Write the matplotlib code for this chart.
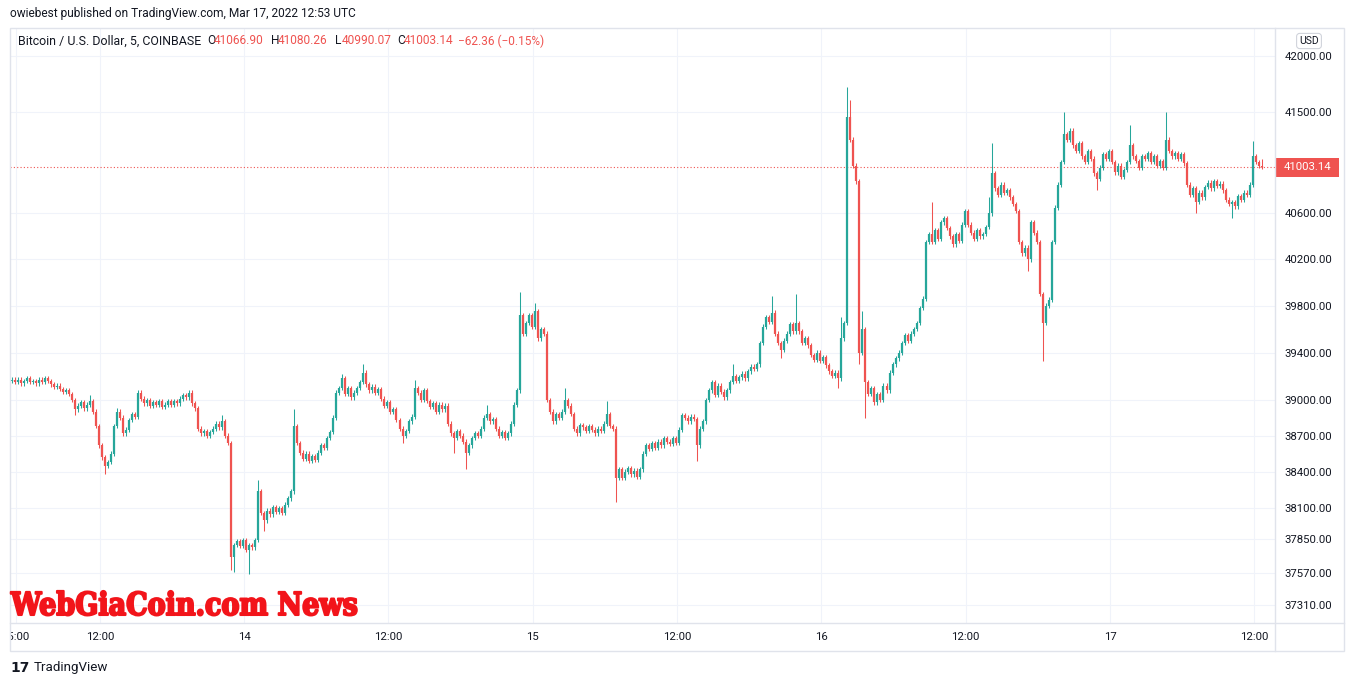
import matplotlib
matplotlib.use("Agg")
import matplotlib.pyplot as plt
import matplotlib.dates as mdates
from matplotlib.patches import Rectangle
from matplotlib.lines import Line2D
from matplotlib.ticker import NullLocator
from matplotlib.patheffects import AbstractPathEffect
from matplotlib.transforms import Affine2D
import numpy as np
import pandas as pd

# ---------------- data (15-minute candles) ----------------
first_open = 39160
close = [
    39170, 39150, 39170, 39140, 39160, 39180, 39150, 39160, 39140, 39170,
    39150, 39180, 39160, 39130, 39110, 39120, 39090, 39070, 39080, 39050,
    39000, 38920, 38950, 38980, 38930, 38960, 38990, 38900, 38780, 38620,
    38520, 38450, 38480, 38550, 38780, 38900, 38850, 38720, 38750, 38830,
    38880, 38860, 39060, 39010, 38970, 39000, 38950, 38980, 38960, 38990,
    38940, 38960, 38990, 38960, 38990, 38970, 39010, 39040, 39020, 39060,
    38970, 38930, 38760, 38720, 38740, 38700, 38730, 38760, 38800, 38770,
    38820, 38700, 38640, 37700, 37800, 37830, 37790, 37840, 37760, 37800,
    37780, 37840, 38240, 38060, 38000, 38080, 38050, 38110, 38070, 38100,
    38060, 38130, 38180, 38240, 38780, 38640, 38560, 38510, 38550, 38490,
    38530, 38500, 38560, 38620, 38600, 38680, 38730, 38850, 39060, 39100,
    39180, 39050, 39100, 39020, 39060, 39100, 39150, 39230, 39130, 39080,
    39110, 39060, 39090, 39010, 38950, 38980, 38900, 38920, 38830, 38760,
    38700, 38740, 38820, 38860, 39100, 39060, 39000, 39080, 38990, 38940,
    38970, 38900, 38960, 38920, 38950, 38800, 38720, 38680, 38740, 38700,
    38650, 38560, 38620, 38680, 38720, 38700, 38760, 38850, 38880, 38820,
    38840, 38760, 38700, 38730, 38680, 38720, 38800, 38960, 39080, 39720,
    39560, 39650, 39720, 39620, 39750, 39520, 39600, 39560, 39000, 38900,
    38820, 38880, 38850, 38900, 39000, 38950, 38880, 38760, 38720, 38790,
    38770, 38740, 38780, 38750, 38720, 38760, 38740, 38800, 38880, 38780,
    38760, 38350, 38420, 38350, 38400, 38430, 38380, 38410, 38360, 38420,
    38550, 38620, 38590, 38640, 38600, 38650, 38620, 38680, 38650, 38630,
    38680, 38640, 38750, 38870, 38850, 38820, 38860, 38840, 38620, 38760,
    38820, 39000, 39080, 39150, 39040, 39120, 39070, 39020, 39080, 39150,
    39200, 39160, 39190, 39220, 39180, 39240, 39280, 39260, 39300, 39480,
    39620, 39700, 39660, 39740, 39560, 39480, 39420, 39500, 39560, 39640,
    39580, 39650, 39580, 39480, 39520, 39460, 39380, 39340, 39400, 39330,
    39360, 39290, 39240, 39200, 39230, 39180, 39520, 39650, 41450, 41250,
    41020, 40880, 39400, 39600, 39150, 39050, 39100, 38980, 39050, 39000,
    39120, 39080, 39230, 39300, 39350, 39400, 39480, 39550, 39500, 39560,
    39600, 39650, 39780, 39860, 40350, 40420, 40350, 40450, 40380, 40520,
    40560, 40470, 40400, 40330, 40420, 40360, 40500, 40620, 40500, 40430,
    40380, 40450, 40400, 40420, 40480, 40600, 40950, 40820, 40760, 40850,
    40780, 40800, 40740, 40680, 40620, 40350, 40250, 40300, 40200, 40520,
    40430, 40350, 39900, 39650, 39800, 39850, 40350, 40650, 40850, 41050,
    41300, 41250, 41330, 41200, 41150, 41220, 41100, 41050, 41150, 41080,
    40950, 40900, 41000, 41120, 41080, 41150, 41050, 40960, 41020, 40920,
    40980, 41050, 41200, 41100, 41060, 41000, 41100, 41080, 41130, 41050,
    41100, 41020, 41060, 41000, 41250, 41150, 41100, 41130, 41080, 41120,
    41040, 40850, 40760, 40820, 40700, 40780, 40740, 40830, 40870, 40820,
    40880, 40840, 40860, 40800, 40720, 40680, 40700, 40660, 40750, 40720,
    40780, 40760, 40850, 41100, 41050, 41020, 41003.14,
]
# notable wicks (candle index -> price)
high_idx = [26, 35, 59, 70, 82, 94, 110, 117, 134, 158, 169, 174, 184, 198, 240,
            253, 261, 276, 278, 279, 283, 306, 325, 326, 350, 372, 384, 413, 416]
high_val = [39040, 38930, 39080, 38870, 38330, 38920, 39220, 39300, 39170, 38960,
            39920, 39820, 39100, 38990, 39300, 39880, 39900, 39700, 41720, 41600,
            39750, 40700, 40740, 41220, 41500, 41380, 41500, 41240, 41080.26]
low_idx = [21, 31, 73, 74, 79, 84, 130, 147, 151, 201, 228, 256, 275, 282, 284,
           338, 343, 361, 394, 406, 416]
low_val = [38870, 38380, 37600, 37580, 37560, 37910, 38640, 38560, 38420, 38150,
           38490, 39350, 39100, 39300, 38850, 40100, 39330, 40800, 40600, 40560,
           40990.07]

y_ticks = [42000, 41500, 40600, 40200, 39800, 39400, 39000, 38700, 38400,
           38100, 37850, 37570, 37310]
x_tick_times = ["2022-03-13 05:00", "2022-03-13 12:00", "2022-03-14 00:00",
                "2022-03-14 12:00", "2022-03-15 00:00", "2022-03-15 12:00",
                "2022-03-16 00:00", "2022-03-16 12:00", "2022-03-17 00:00",
                "2022-03-17 12:00"]
x_tick_labels = ["05:00", "12:00", "14", "12:00", "15", "12:00", "16", "12:00",
                 "17", "12:00"]
last_price = 41003.14
legend_ohlc = [("O", "41066.90"), ("H", "41080.26"), ("L", "40990.07"), ("C", "41003.14")]
legend_change = "\u221262.36 (\u22120.15%)"

# ---------------- style ----------------
W, H = 1354, 686
UP, DOWN = "#26a69a", "#ef5350"
GRID = "#f0f3fa"
BORDER = "#e0e3eb"
TXT = "#131722"
WM_RED = "#f2141a"
FONT = ["Roboto", "DejaVu Sans"]
WICK_FRAC = 0.0005

plt.rcParams["font.family"] = FONT
fig = plt.figure(figsize=(W / 100, H / 100), dpi=100, facecolor="white")


def fx(x):
    return x / W


def fy(y):
    return 1 - y / H


class HScaleBold(AbstractPathEffect):
    """Squeeze glyph outlines horizontally around a display x and embolden them."""

    def __init__(self, sx, x0, stroke, color):
        super().__init__()
        self.sx = sx
        self.x0 = x0
        self.stroke = stroke
        self.color = color

    def draw_path(self, renderer, gc, tpath, affine, rgbFace=None):
        aff = affine + Affine2D().translate(-self.x0, 0).scale(self.sx, 1).translate(self.x0, 0)
        gc0 = renderer.new_gc()
        gc0.copy_properties(gc)
        gc0.set_linewidth(self.stroke)
        gc0.set_foreground(self.color)
        gc0.set_joinstyle("round")
        renderer.draw_path(gc0, tpath, aff, rgbFace)
        gc0.restore()


# plot area in pixels
L, R, T, B = 9.5, 1274.5, 28, 622.5
ax = fig.add_axes([fx(L), fy(B), fx(R) - fx(L), fy(T) - fy(B)])
ax.set_facecolor("white")

times = pd.date_range("2022-03-13 04:40", periods=len(close), freq="15min")
xs = mdates.date2num(times.to_pydatetime())
c = np.array(close, dtype=float)
o = np.array([first_open] + close[:-1], dtype=float)
top = np.maximum(o, c)
bot = np.minimum(o, c)
hi = top * (1 + WICK_FRAC)
lo = bot * (1 - WICK_FRAC)
for i, v in zip(high_idx, high_val):
    hi[i] = max(v, top[i])
for i, v in zip(low_idx, low_val):
    lo[i] = min(v, bot[i])
up = c >= o
cols = np.where(up, UP, DOWN)
body_top = np.where(top - bot < 6, bot + 6, top)

ax.vlines(xs, lo, hi, colors=cols, lw=0.75, zorder=3)
ax.vlines(xs, bot, body_top, colors=cols, lw=1.6, zorder=3)

ax.set_yscale("log")
ax.set_ylim(37173, 42254)
x0 = mdates.date2num(pd.Timestamp("2022-03-13 04:29").to_pydatetime())
x1 = mdates.date2num(pd.Timestamp("2022-03-17 13:41").to_pydatetime())
ax.set_xlim(x0, x1)

ax.yaxis.set_minor_locator(NullLocator())
ax.xaxis.set_minor_locator(NullLocator())
ax.yaxis.tick_right()
ax.set_yticks(y_ticks)
ax.set_yticklabels([f"{v:.2f}" for v in y_ticks])
ax.set_xticks(mdates.date2num(pd.to_datetime(x_tick_times).to_pydatetime()))
ax.set_xticklabels(x_tick_labels)
ax.tick_params(axis="y", length=0, pad=7.5, labelsize=8.2, colors=TXT)
ax.tick_params(axis="x", length=0, pad=6.5, labelsize=8.2, colors=TXT)
ax.grid(True, color=GRID, lw=0.8)
ax.set_axisbelow(True)
for s in ax.spines.values():
    s.set_visible(False)

ax.axhline(last_price, color=DOWN, lw=0.8, ls=(0, (1, 2)), zorder=2)

# ---------------- overlay in pixel coordinates ----------------
ov = fig.add_axes([0, 0, 1, 1], zorder=5)
ov.set_xlim(0, W)
ov.set_ylim(H, 0)
ov.axis("off")
ov.patch.set_alpha(0)

ov.add_patch(Rectangle((0, 622), L, 30, facecolor="white", edgecolor="none"))
ov.add_patch(Rectangle((L, T), 1343.5 - L, 650.5 - T, facecolor="none",
                       edgecolor=BORDER, lw=1.0))
ov.add_line(Line2D([R, R], [T, 650.5], color=BORDER, lw=1.0))
ov.add_line(Line2D([L, 1343.5], [B, B], color=BORDER, lw=1.0))

# last price label
ov.add_patch(Rectangle((R, 158), 64, 18.5, facecolor=DOWN, edgecolor="none"))
ov.text(R + 33, 167.5, f"{last_price:.2f}", color="white", fontsize=8.2,
        ha="center", va="center")

# USD tag
ov.text(1309, 41, "USD", fontsize=7.5, color=TXT, ha="center", va="center",
        bbox=dict(boxstyle="round,pad=0.25,rounding_size=0.3", fc="white",
                  ec="#d1d4dc", lw=0.8))

# header
ov.text(10.5, 14, "owiebest published on TradingView.com, Mar 17, 2022 12:53 UTC",
        fontsize=8.6, color=TXT, ha="left", va="center")
ov.text(18, 41, "Bitcoin / U.S. Dollar, 5, COINBASE", fontsize=8.9, color=TXT,
        ha="left", va="center")
lx = [207, 271, 335, 397]
for (k, v), xk in zip(legend_ohlc, lx):
    ov.text(xk, 41, k, fontsize=8.6, color=TXT, ha="left", va="center")
    ov.text(xk + 7, 41, v, fontsize=8.6, color=DOWN, ha="left", va="center")
ov.text(458, 41, legend_change, fontsize=8.6, color=DOWN, ha="left", va="center")

# watermark: heavy slab-serif, squeezed horizontally to the reference width
wm = ov.text(11, 615.0, "WebGiaCoin.com News", fontsize=22.8, color=WM_RED,
             family=["DejaVu Serif"], fontweight="bold",
             ha="left", va="baseline")
renderer = fig.canvas.get_renderer()
bb = wm.get_window_extent(renderer)
sx = (357 - 11) / bb.width
wm.set_path_effects([HScaleBold(sx, bb.x0, 1.5, WM_RED)])

# TradingView logo
ov.text(10, 668, "17", fontsize=10, fontweight="heavy", color=TXT,
        family=["DejaVu Sans"], ha="left", va="center")
ov.text(34, 668, "TradingView", fontsize=9.6, color=TXT, ha="left", va="center")

fig.savefig("out.png", dpi=100, facecolor="white")
